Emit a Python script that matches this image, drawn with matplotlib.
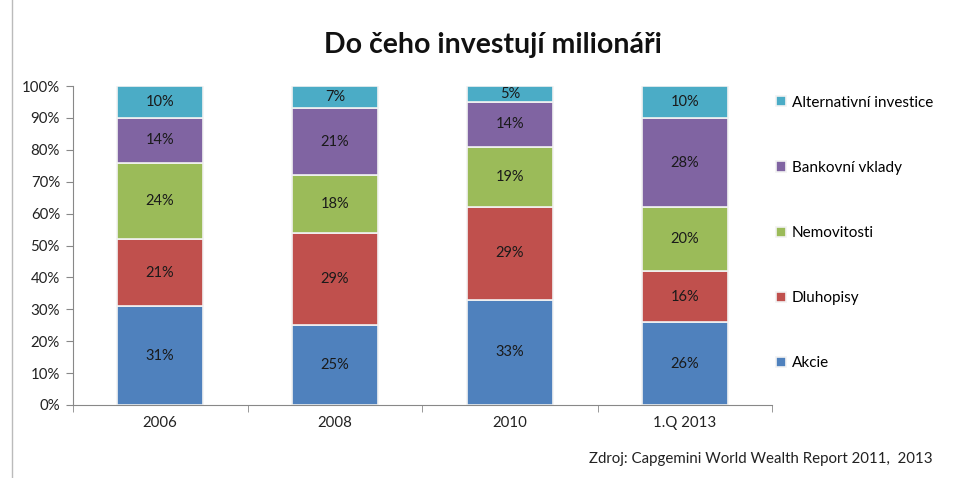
import matplotlib
matplotlib.use("Agg")
import matplotlib.pyplot as plt
from matplotlib.patches import Rectangle
import numpy as np

plt.rcParams['font.family'] = ['Lato', 'DejaVu Sans']

categories = ["2006", "2008", "2010", "1.Q 2013"]
series_names = ["Akcie", "Dluhopisy", "Nemovitosti", "Bankovní vklady", "Alternativní investice"]
akcie = [31, 25, 33, 26]
dluhopisy = [21, 29, 29, 16]
nemovitosti = [24, 18, 19, 20]
bankovni = [14, 21, 14, 28]
alternativni = [10, 7, 5, 10]
colors = ["#4F81BD", "#C0504D", "#9BBB59", "#8064A2", "#4BACC6"]
y_ticks = [0, 10, 20, 30, 40, 50, 60, 70, 80, 90, 100]

series = [akcie, dluhopisy, nemovitosti, bankovni, alternativni]

fig = plt.figure(figsize=(9.56, 4.78), dpi=100)
ax = fig.add_axes([72.5/956, 1-405/478, 700/956, 319/478])

x = np.arange(len(categories))
bottom = np.zeros(len(categories))
handles = []
for name, vals, c in zip(series_names, series, colors):
    vals = np.array(vals, dtype=float)
    b = ax.bar(x, vals, 0.49, bottom=bottom, color=c, edgecolor="#f2f2f2", linewidth=1.2, label=name)
    handles.append(b)
    for xi, v, bt in zip(x, vals, bottom):
        ax.text(xi, bt + v/2, f"{int(v)}%", ha="center", va="center", fontsize=10.5, color="#1a1a1a")
    bottom += vals

ax.set_xlim(-0.5, len(categories) - 0.5)
ax.set_ylim(0, 100)
ax.set_yticks(y_ticks)
ax.set_yticklabels([f"{t}%" for t in y_ticks], fontsize=10.8, color="#222222")
ax.set_xticks(x)
ax.set_xticklabels(categories, fontsize=10.8, color="#222222")
ax.tick_params(axis="x", length=0, pad=8)
ax.set_xticks(np.arange(-0.5, len(categories)), minor=True)
ax.tick_params(axis="x", which="minor", length=5, color="#888888")
ax.tick_params(axis="y", length=5, color="#888888", pad=4)
for s in ["top", "right"]:
    ax.spines[s].set_visible(False)
for s in ["left", "bottom"]:
    ax.spines[s].set_color("#888888")

fig.text(493/956, 1-45/478, "Do čeho investují milionáři", ha="center", va="center",
         fontsize=20.5, fontweight="bold", color="#111111")

leg = fig.legend(handles[::-1], series_names[::-1], loc="upper left",
                 bbox_to_anchor=(762/956, 1-82/478), frameon=False, fontsize=11,
                 handlelength=0.65, handleheight=0.65, handletextpad=0.4, labelspacing=3.35)

fig.text(933/956, 1-459/478, "Zdroj: Capgemini World Wealth Report 2011,  2013",
         ha="right", va="center", fontsize=10.8, color="#222222")

fig.patches.append(Rectangle((12/956, -0.01), 1, 1.02, transform=fig.transFigure,
                             fill=False, edgecolor="#bbbbbb", linewidth=1))

fig.savefig("out.png", dpi=100)
